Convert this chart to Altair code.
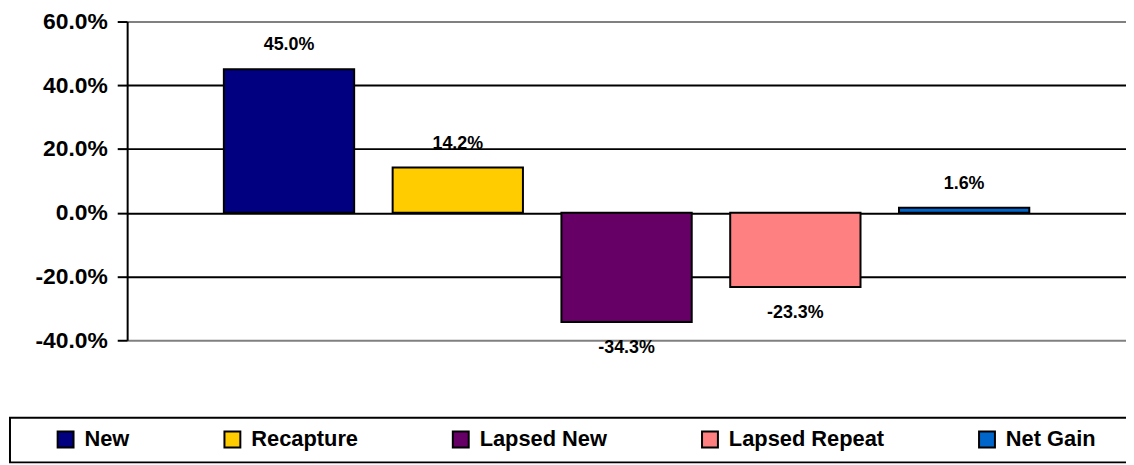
import altair as alt
import pandas as pd

categories = ["New", "Recapture", "Lapsed New", "Lapsed Repeat", "Net Gain"]
values = [0.450, 0.142, -0.343, -0.233, 0.016]
colors = ["#000080", "#FFCC00", "#660066", "#FF8080", "#0066CC"]
y_ticks = [-0.4, -0.2, 0.0, 0.2, 0.4, 0.6]

df = pd.DataFrame({"series": categories, "value": values})

FONT = "Liberation Sans"
MINUS = "\u2212"

x_enc = alt.X("series:N", sort=categories, axis=None,
              scale=alt.Scale(paddingInner=0.228, paddingOuter=0.573))

grid_color = {
    "condition": {
        "test": "abs(datum.value - 0.6) < 1e-6 || abs(datum.value + 0.4) < 1e-6",
        "value": "#808080",
    },
    "value": "#000000",
}

y_enc = alt.Y(
    "value:Q",
    scale=alt.Scale(domain=[-0.4, 0.6], nice=False),
    axis=alt.Axis(
        values=y_ticks, format=".1%", title=None, grid=True,
        labelExpr=f"replace(datum.label, '{MINUS}', '-')",
        gridColor=grid_color, gridWidth=2, gridOpacity=1,
        domainColor="black", domainWidth=2,
        tickColor="black", tickWidth=2, tickSize=10,
        labelFont=FONT, labelFontSize=23, labelFontWeight="bold",
        labelColor="black", labelPadding=10, labelFlush=False,
        labelOverlap=False,
    ),
)

legend = alt.Legend(
    title=" ", titleOrient="right", titleFontSize=1, titlePadding=60,
    orient="none", legendX=-118, legendY=399, direction="horizontal",
    symbolType="square", symbolSize=256, symbolStrokeColor="black",
    symbolStrokeWidth=2, symbolOpacity=1, symbolOffset=34,
    labelFont=FONT, labelFontSize=22, labelFontWeight="bold",
    labelColor="black", labelOffset=8, labelLimit=400,
    columnPadding=58, padding=11, strokeColor="black", fillColor="white",
)

bars = alt.Chart(df).mark_bar(stroke="black", strokeWidth=2, opacity=1).encode(
    x=x_enc,
    y=y_enc,
    fill=alt.Fill("series:N", sort=categories,
                  scale=alt.Scale(domain=categories, range=colors),
                  legend=legend),
)

label_expr = f"replace(format(datum.value, '.1%'), '{MINUS}', '-')"

pos_labels = alt.Chart(df).transform_filter("datum.value >= 0").transform_calculate(
    label=label_expr
).mark_text(
    font=FONT, fontSize=18, fontWeight="bold", color="black",
    baseline="middle", dy=-24,
).encode(x=x_enc, y=y_enc, text="label:N")

neg_labels = alt.Chart(df).transform_filter("datum.value < 0").transform_calculate(
    label=label_expr
).mark_text(
    font=FONT, fontSize=18, fontWeight="bold", color="black",
    baseline="middle", dy=26,
).encode(x=x_enc, y=y_enc, text="label:N")

chart = alt.layer(bars, pos_labels, neg_labels).properties(
    width=1006,
    height=321,
    autosize=alt.AutoSizeParams(type="none"),
    padding={"left": 120, "top": 12, "right": 0, "bottom": 123},
    background="white",
).configure_view(strokeOpacity=0).configure_legend(strokeWidth=2)

chart.save("out.html", embed_options={"renderer": "svg", "actions": False})
